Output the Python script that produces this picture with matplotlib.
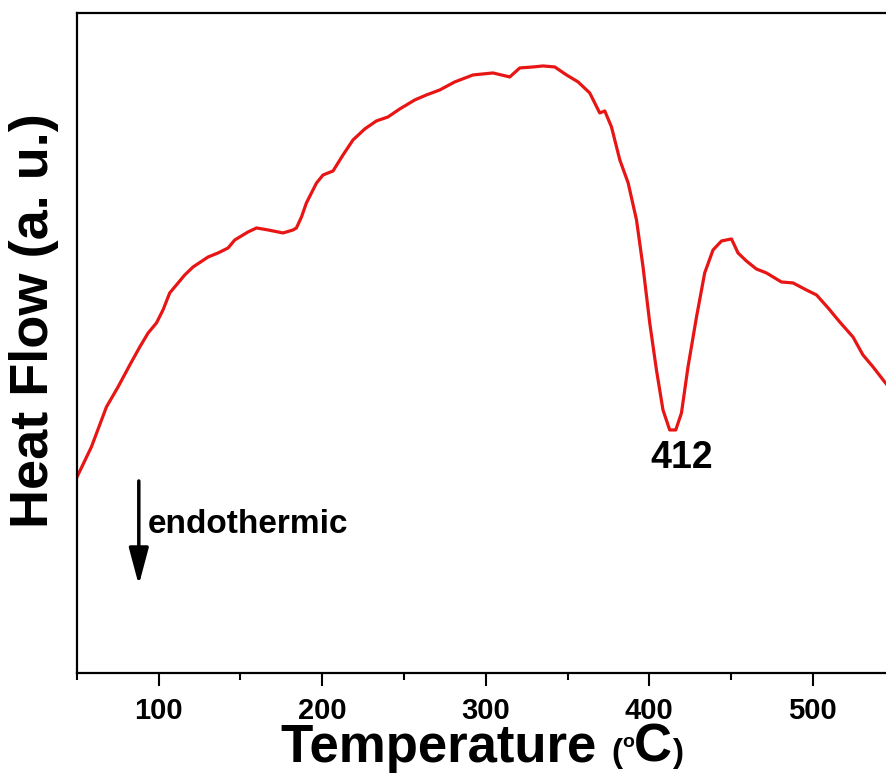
import matplotlib
matplotlib.use("Agg")
import matplotlib.pyplot as plt
from matplotlib.ticker import MultipleLocator

plt.rcParams['font.family'] = ['Liberation Sans', 'DejaVu Sans']
plt.rcParams['font.weight'] = 'bold'

# DSC trace (temperature in C, heat flow in a.u.)
temperature = [
    50, 58.8, 68.0, 75.1, 82.3, 88.4, 93.5, 98.6, 102.6, 106.7,
    110.8, 115.9, 121.0, 130.2, 136.3, 142.4, 146.5, 154.6, 159.8, 166.9,
    176.0, 182.1, 184.2, 187.3, 190.3, 196.5, 200.5, 206.6, 212.7, 218.8,
    226.0, 233.1, 240.2, 247.4, 256.6, 263.7, 271.9, 281.0, 292.2, 304.4,
    314.7, 320.8, 329.0, 335.0, 342.2, 349.4, 356.5, 363.6, 369.7, 372.8,
    376.9, 382.0, 387.1, 392.2, 396.2, 400.3, 404.4, 408.4, 412.5, 416.2,
    419.7, 423.7, 428.9, 433.9, 439.0, 444.2, 450.3, 454.3, 459.4, 465.5,
    471.7, 480.8, 488.0, 496.1, 502.3, 509.4, 516.5, 524.6, 530.7, 536.9,
    544.0, 547.0
]
heat_flow = [
    196, 226, 266, 286, 308, 326, 340, 350, 363, 380,
    388, 398, 406, 416, 420, 425, 433, 441, 445, 443,
    440, 443, 445, 456, 470, 490, 498, 502, 518, 533,
    544, 552, 556, 564, 573, 578, 583, 591, 598, 600,
    596, 605, 606, 607, 606, 598, 591, 580, 560, 562,
    546, 513, 490, 453, 406, 350, 303, 263, 243, 243,
    260, 306, 356, 400, 423, 432, 434, 420, 412, 404,
    400, 391, 390, 383, 378, 365, 351, 336, 318, 306,
    291, 285
]

peak_label = "412"
peak_pos = (420, 215)

fig = plt.figure(figsize=(8.86, 7.8), dpi=100)
ax = fig.add_axes([0.0869, 0.1372, 0.9227, 0.8462])

ax.plot(temperature, heat_flow, color='#e81515', lw=2.3, solid_joinstyle='round')

ax.set_xlim(50, 550)
ax.set_ylim(0, 660)
ax.xaxis.set_major_locator(MultipleLocator(100))
ax.xaxis.set_minor_locator(MultipleLocator(50))
ax.set_yticks([])
ax.tick_params(axis='x', which='major', direction='out', length=9, width=1.5,
               labelsize=21, pad=8)
ax.tick_params(axis='x', which='minor', direction='out', length=5, width=1.5)
for lab in ax.get_xticklabels():
    lab.set_fontweight('bold')
for s in ax.spines.values():
    s.set_linewidth(1.6)

# annotations
ax.text(peak_pos[0], peak_pos[1], peak_label, fontsize=27, fontweight='bold',
        ha='center', va='center')
ax.annotate('', xy=(87.8, 88), xytext=(87.8, 192),
            arrowprops=dict(arrowstyle='-|>,head_length=1.5,head_width=0.4',
                            lw=2.5, color='black', mutation_scale=15,
                            shrinkA=0, shrinkB=0))
ax.text(93.3, 148, "endothermic", fontsize=24, fontweight='bold',
        ha='left', va='center')

# y label
fig.text(48 / 886, 1 - 321 / 780, "Heat Flow (a. u.)", rotation=90,
         rotation_mode='anchor', ha='center', va='baseline',
         fontsize=39, fontweight='bold')

# x label with small parentheses and superscript degree
fig.canvas.draw()
renderer = fig.canvas.get_renderer()
base_y = 1 - 762 / 780
parts = [("Temperature ", 38, 0), ("(", 24, 0), ("o", 14, 15), ("C", 38, 0), (")", 24, 0)]
texts = []
x = 0.0
for s, size, raise_px in parts:
    t = fig.text(x, base_y + raise_px / 780, s, fontsize=size, fontweight='bold',
                 ha='left', va='baseline')
    texts.append(t)
    w = t.get_window_extent(renderer).width / 886
    x += w
total = x
start = 482 / 886 - total / 2
for t in texts:
    px, py = t.get_position()
    t.set_position((px + start, py))

fig.savefig("out.png", dpi=100)
